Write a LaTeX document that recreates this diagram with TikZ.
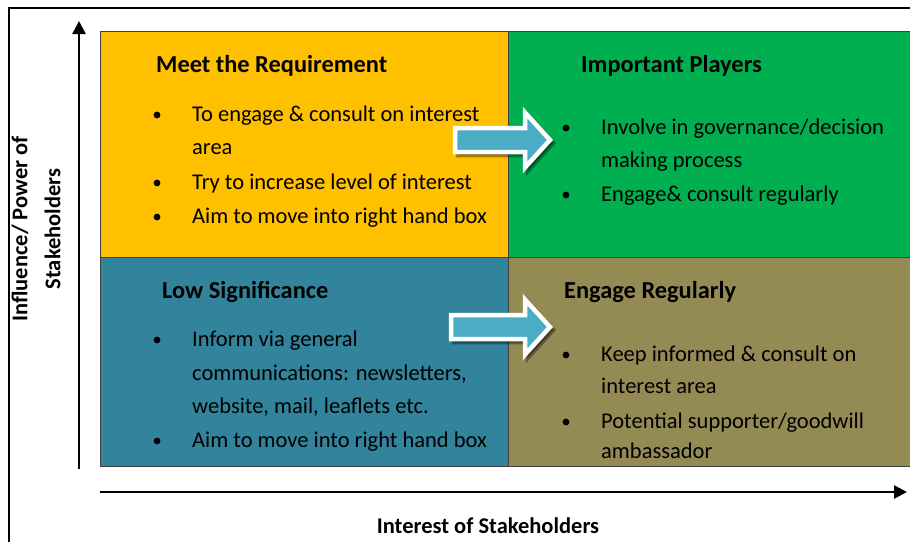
\documentclass[tikz,border=0pt]{standalone}
\usepackage{fontspec}
\setmainfont{Carlito}
\usetikzlibrary{arrows.meta}

\definecolor{reqyellow}{HTML}{FFC000}
\definecolor{playgreen}{HTML}{00B050}
\definecolor{lowteal}{HTML}{31849B}
\definecolor{regolive}{HTML}{948A54}
\definecolor{arrowblue}{HTML}{4BACC6}

\begin{document}
\begin{tikzpicture}[x=1pt, y=-1pt,
    head/.style={anchor=base west, inner sep=0pt, font=\fontsize{24.4}{28}\selectfont\bfseries},
    item/.style={anchor=base west, inner sep=0pt, font=\fontsize{22.5}{26}\selectfont},
    axislabel/.style={font=\fontsize{22.5}{33}\selectfont\bfseries, align=center},
    blockarrow/.style={fill=arrowblue, draw=white, line width=4.5pt, line join=miter}]
    \useasboundingbox (0,0) rectangle (910,541);
    \draw [line width=2pt] (8.5,546) |- (915,7.5);

    % the four boxes
    \fill [reqyellow] (100,31) rectangle (508,257);
    \fill [playgreen] (508,31) rectangle (915,257);
    \fill [lowteal] (100,257) rectangle (508,466);
    \fill [regolive] (508,257) rectangle (915,466);
    \draw [black!75, line width=0.9pt] (100,31) rectangle (915,466);
    \draw [black!75, line width=0.9pt] (508,31) -- (508,466);
    \draw [black!75, line width=0.9pt] (100,257) -- (915,257);

    % axes
    \coordinate (O) at (79,469);
    \coordinate (Y) at (79,21);
    \coordinate (X0) at (100,492);
    \coordinate (X) at (907,492);
    \draw [-{Triangle[length=13pt,width=13pt]}, line width=2.6pt] (O) -- (Y);
    \draw [-{Triangle[length=13pt,width=13pt]}, line width=2.6pt] (X0) -- (X);
    \node [axislabel, rotate=90] (ylab) at (36,229) {Influence/ Power of\\Stakeholders};
    \node [axislabel, anchor=base] (xlab) at (488,533) {Interest of Stakeholders};

    % block arrows
    \foreach \ax/\ay in {455/140, 451/327} {
        \filldraw [black, opacity=0.35, line width=4.5pt, shift={(3,3)}]
            (\ax,\ay-12) -- (525,\ay-12) -- (525,\ay-27.5) -- (550,\ay)
            -- (525,\ay+27.5) -- (525,\ay+12) -- (\ax,\ay+12) -- cycle;
        \filldraw [blockarrow]
            (\ax,\ay-12) -- (525,\ay-12) -- (525,\ay-27.5) -- (550,\ay)
            -- (525,\ay+27.5) -- (525,\ay+12) -- (\ax,\ay+12) -- cycle;
    }

    % Meet the Requirement
    \node [head] (meet) at (156,72) {Meet the Requirement};
    \node [item] (m1) at (192,121) {To engage \& consult on interest};
    \node [item] (m2) at (192,154) {area};
    \node [item] (m3) at (192,189) {Try to increase level of interest};
    \node [item] (m4) at (192,223) {Aim to move into right hand box};
    \foreach \by in {121,189,223}
        \fill (157,\by-6) circle (3.4pt);

    % Important Players
    \node [head] (players) at (581,72) {Important Players};
    \node [item] (p1) at (601,134) {Involve in governance/decision};
    \node [item] (p2) at (601,167) {making process};
    \node [item] (p3) at (601,201) {Engage\& consult regularly};
    \foreach \by in {134,201}
        \fill (566,\by-6) circle (3.4pt);

    % Low Significance
    \node [head] (low) at (162,298) {Low Significance};
    \node [item] (l1) at (192,346) {Inform via general};
    \node [item] (l2) at (192,380) {communications: newsletters,};
    \node [item] (l3) at (192,413) {website, mail, leaflets etc.};
    \node [item] (l4) at (192,447) {Aim to move into right hand box};
    \foreach \by in {346,447}
        \fill (157,\by-6) circle (3.4pt);

    % Engage Regularly
    \node [head] (engage) at (564,298) {Engage Regularly};
    \node [item] (e1) at (601,361) {Keep informed \& consult on};
    \node [item] (e2) at (601,393) {interest area};
    \node [item] (e3) at (601,428) {Potential supporter/goodwill};
    \node [item] (e4) at (601,458) {ambassador};
    \foreach \by in {361,428}
        \fill (566,\by-6) circle (3.4pt);
\end{tikzpicture}
\end{document}
